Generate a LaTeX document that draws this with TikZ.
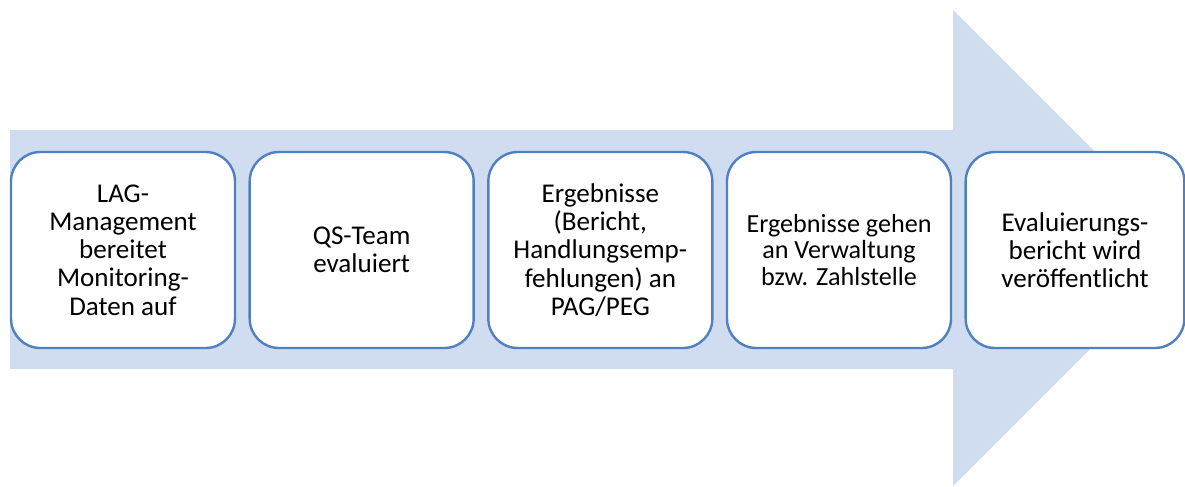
\documentclass[tikz,border=0pt]{standalone}
\usepackage{fontspec}
\setmainfont{Carlito}
\usetikzlibrary{positioning}

\definecolor{arrowblue}{RGB}{208,220,239}
\definecolor{boxblue}{RGB}{80,128,190}

\tikzset{
  stepbox/.style={draw=boxblue, line width=1.8pt, fill=white, rounded corners=22pt,
    minimum width=168pt, minimum height=147pt, align=center, text=black,
    font=\fontsize{20.3}{21.2}\selectfont, inner sep=0pt},
}

\begin{document}
\begin{tikzpicture}[x=0.75pt,y=-0.75pt]
            \useasboundingbox (0,0) rectangle (1185,486);
            \clip (0,0) rectangle (1185,486);
            % big arrow
            \fill[arrowblue] (10,130)--(953,130)--(953,10)--(1191,248)--(953,486)--(953,369)--(10,369)--cycle;
            % steps
            \node[stepbox] (mgmt) at (123,250) {LAG-\\Management\\bereitet\\Monitoring-\\Daten auf};
            \node[stepbox, right=9.2pt of mgmt] (team) {QS-Team\\evaluiert};
            \node[stepbox, right=9.2pt of team] (result) {Ergebnisse\\(Bericht,\\Handlungsemp-\\fehlungen) an\\PAG/PEG};
            \node[stepbox, right=9.2pt of result, font=\fontsize{19.6}{19.6}\selectfont] (admin) {Ergebnisse gehen\\an Verwaltung\\bzw. Zahlstelle};
            \node[stepbox, right=9.2pt of admin, minimum width=164pt] (report) {Evaluierungs-\\bericht wird\\veröffentlicht};
        \end{tikzpicture}
\end{document}
